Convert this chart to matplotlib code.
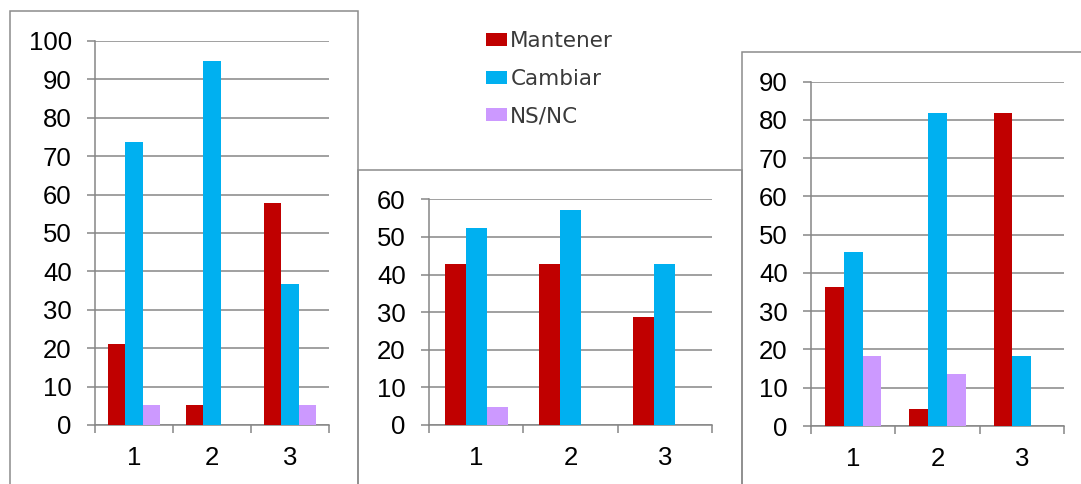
import matplotlib
matplotlib.use("Agg")
import matplotlib.pyplot as plt
from matplotlib.patches import Rectangle

# survey answers per question (percent), three groups
categories = ["1", "2", "3"]
series_names = ["Mantener", "Cambiar", "NS/NC"]

group_a_mantener = [21.1, 5.3, 57.9]
group_a_cambiar = [73.7, 94.7, 36.8]
group_a_nsnc = [5.3, 0.0, 5.3]

group_b_mantener = [42.9, 42.9, 28.6]
group_b_cambiar = [52.4, 57.1, 42.9]
group_b_nsnc = [4.8, 0.0, 0.0]

group_c_mantener = [36.4, 4.5, 81.8]
group_c_cambiar = [45.5, 81.8, 18.2]
group_c_nsnc = [18.2, 13.6, 0.0]

colors = ["#C00000", "#00B0F0", "#CC99FF"]
grey = "#868686"

W, H = 1081, 484
plt.rcParams["font.family"] = ["Liberation Sans", "DejaVu Sans"]

fig = plt.figure(figsize=(W / 100, H / 100), dpi=100)


def px_axes(left, right, top, bottom):
    return fig.add_axes([left / W, 1 - bottom / H, (right - left) / W, (bottom - top) / H])


def panel(ax, series, ymax):
    n = len(categories)
    width = 0.223
    centers = [i + 0.5 for i in range(n)]
    handles = []
    for k, (vals, col) in enumerate(zip(series, colors)):
        xs = [c + (k - 1) * width for c in centers]
        handles.append(ax.bar(xs, vals, width=width, color=col, zorder=3))
    ax.set_xlim(0, n)
    ax.set_ylim(0, ymax)
    ax.set_yticks(range(0, ymax + 1, 10))
    ax.set_xticks(range(n + 1))
    ax.set_xticklabels([])
    ax.set_xticks(centers, minor=True)
    ax.set_xticklabels(categories, minor=True)
    ax.tick_params(axis="x", which="major", length=5.8, width=1.1, color=grey, direction="out")
    ax.tick_params(axis="x", which="minor", length=0, pad=15, labelsize=18.5)
    ax.tick_params(axis="y", length=5.8, width=1.1, color=grey, pad=11, labelsize=18.5)
    ax.grid(axis="y", color=grey, linewidth=1.1, zorder=0)
    ax.set_axisbelow(True)
    for side in ("top", "right"):
        ax.spines[side].set_visible(False)
    for side in ("left", "bottom"):
        ax.spines[side].set_color(grey)
        ax.spines[side].set_linewidth(1.1)
    return handles


# outer frames of the three chart boxes
for x0, y0, x1 in [(10, 11, 358), (358, 170, 742), (742, 52, 1095)]:
    fig.add_artist(Rectangle((x0 / W, 1 - 520 / H), (x1 - x0) / W, (520 - y0) / H,
                             transform=fig.transFigure, fill=False,
                             edgecolor="#8c8c8c", linewidth=1.1))

ax1 = px_axes(95, 329, 41, 425)
handles = panel(ax1, [group_a_mantener, group_a_cambiar, group_a_nsnc], 100)

ax2 = px_axes(429, 712, 199.3, 425)
panel(ax2, [group_b_mantener, group_b_cambiar, group_b_nsnc], 60)

ax3 = px_axes(811, 1064, 81.7, 426)
panel(ax3, [group_c_mantener, group_c_cambiar, group_c_nsnc], 90)

fig.legend(handles, series_names, loc="upper left",
           bbox_to_anchor=(486 / W, 1 - 31 / H), frameon=False,
           prop={"family": "DejaVu Sans", "size": 15.5}, labelcolor="#3a3a3a",
           handlelength=0.98, handleheight=0.55, handletextpad=0.15,
           labelspacing=0.82, borderpad=0, borderaxespad=0)

fig.savefig("out.png", dpi=100)
